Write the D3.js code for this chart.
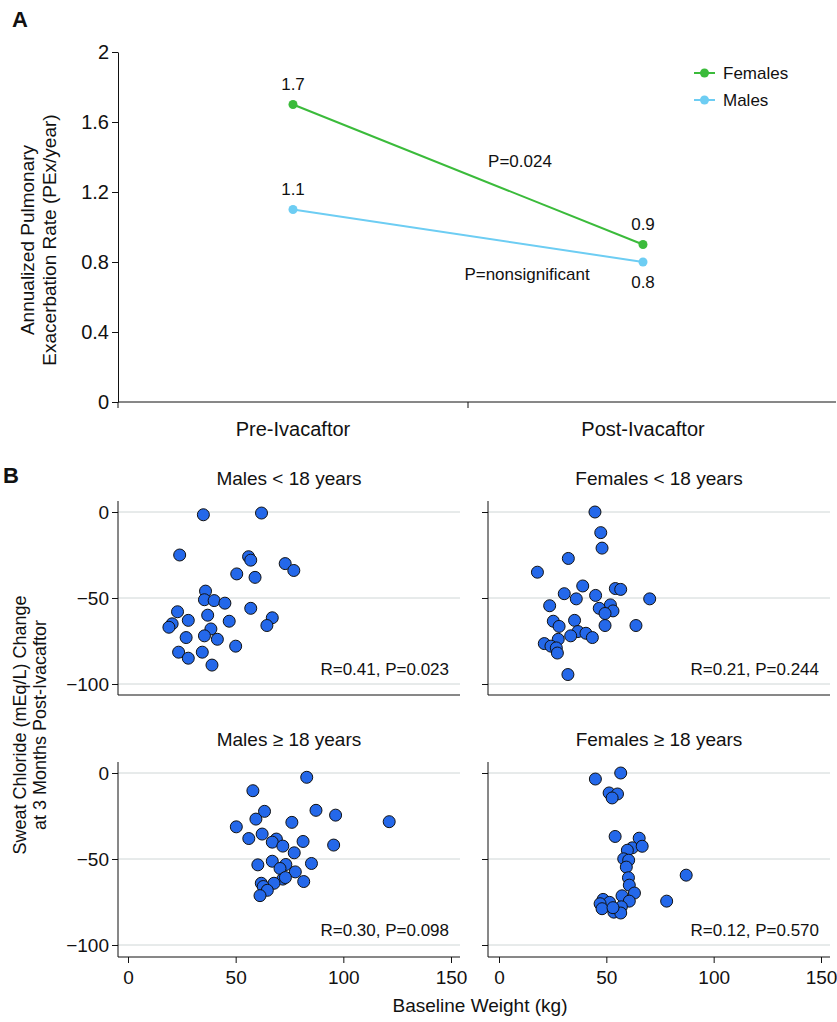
<!DOCTYPE html>
<html>
<head>
<meta charset="utf-8">
<script src="https://cdn.jsdelivr.net/npm/d3@7"></script>
<style>
  html, body { margin: 0; padding: 0; background: #fff; }
  svg { display: block; }
  text { font-family: "Liberation Sans", Arial, Helvetica, sans-serif; fill: #111; }
</style>
</head>
<body>
<svg id="chart" width="837" height="1022"></svg>
<script>
// ---------------- Panel A data ----------------
const periods = ["Pre-Ivacaftor", "Post-Ivacaftor"];
const femalesRate = [1.7, 0.9];
const malesRate = [1.1, 0.8];
const rateTicks = [0, 0.4, 0.8, 1.2, 1.6, 2];
const seriesNames = ["Females", "Males"];
const pLabels = ["P=0.024", "P=nonsignificant"];

// ---------------- Panel B data ----------------
const panelTitles = ["Males < 18 years", "Females < 18 years", "Males \u2265 18 years", "Females \u2265 18 years"];
const panelStats = ["R=0.41, P=0.023", "R=0.21, P=0.244", "R=0.30, P=0.098", "R=0.12, P=0.570"];
const weightTicks = [0, 50, 100, 150];
const changeTicks = [-100, -50, 0];

const malesU18Weight = [35,62,24,56,57,73,77,50.5,59,36,35.5,40,45,57,23,37,67,28,47,20.5,64.5,19,38.5,35.5,27,41.5,50,23.5,34.5,28,39];
const malesU18Change = [-1.6,-0.6,-25,-26,-28,-30,-34,-36,-38,-46,-51,-51.5,-53,-56,-58,-60,-61.5,-63,-63.5,-65,-66,-67,-68,-72,-73,-74,-78,-81.5,-81.5,-85,-89];

const femalesU18Weight = [44.7,47.4,48,32.3,17.9,39,54.2,56.7,30.4,45,36,70.2,23.6,51.9,46.7,53.1,49.4,35.2,25.3,28,49.4,63.8,36.8,40.5,33.4,43.5,27.6,21.1,24.2,26.7,27.2,32.1];
const femalesU18Change = [0,-12,-21,-27,-35,-43,-44.5,-45,-47.5,-48.5,-50.5,-50.5,-54.5,-54,-56,-57.5,-59,-63,-63.5,-66.5,-66,-66,-69.5,-70.5,-72,-73,-74,-76.5,-78,-79,-82,-94.5];

const malesO18Weight = [83,58,63.4,87.3,96.4,59.4,76.1,121.3,50.3,62.3,56.1,68.9,67,81.3,71.9,95.5,77.2,67,60.3,73.3,85.2,70.6,77.7,71.9,73.1,81.6,61.9,67.8,62.8,64.7,61.3];
const malesO18Change = [-2.5,-10.3,-22.3,-21.7,-24.5,-26.8,-28.7,-28.3,-31.3,-35.5,-38.1,-38.4,-40.2,-39.8,-42.5,-41.9,-46.4,-51.3,-53.4,-53.2,-52.6,-55.5,-57.5,-61.7,-60.8,-63.1,-64.1,-64.1,-66,-68.2,-71.3];

const femalesO18Weight = [56.7,44.9,51.3,55.2,52.7,54.1,65.3,62.1,66.7,59.8,58.1,60.4,59.3,60.3,60.7,63.1,57.3,48.5,87.2,78.1,51.5,60.7,47.1,48,57,53.5,56.7,53.1];
const femalesO18Change = [0,-3.5,-11.6,-12.2,-14.5,-36.9,-37.9,-43.5,-42.6,-44.9,-49.9,-50.7,-54.7,-60.9,-65.2,-69.8,-71.4,-73.5,-59.4,-74.5,-75.2,-74.5,-76,-78.9,-77.8,-80.9,-81.4,-78.3];

// ---------------- Drawing ----------------
const svg = d3.select("#chart");
const green = "#3bbb3b", blue = "#6dcdf3";
const fontA = 20, fontSmall = 17;

// Panel A
svg.append("text").attr("x", 12).attr("y", 27).attr("font-size", 22).attr("font-weight", "bold").text("A");

const xA = d3.scaleBand().domain(periods).range([118, 818]);
const yA = d3.scaleLinear().domain([0, 2]).range([402, 52]);
const gA = svg.append("g");

const yAxisA = d3.axisLeft(yA).tickValues(rateTicks).tickSize(6).tickSizeOuter(0)
  .tickFormat(d => d === 0 || d === 2 ? String(d) : d.toFixed(1));
const gyA = gA.append("g").attr("transform", "translate(118,0)").call(yAxisA);
gyA.selectAll("text").attr("font-size", fontA).attr("font-family", "Liberation Sans, Arial, sans-serif").attr("fill", "#111");
gyA.selectAll("line, path").attr("stroke", "#111");

// x axis line and ticks
gA.append("line").attr("x1", 118).attr("x2", 836).attr("y1", yA(0)).attr("y2", yA(0)).attr("stroke", "#111");
gA.selectAll(".xtickA").data(periods).enter().append("line")
  .attr("x1", d => xA(d)).attr("x2", d => xA(d)).attr("y1", yA(0)).attr("y2", yA(0) + 6).attr("stroke", "#111");
gA.selectAll(".xlabA").data(periods).enter().append("text")
  .attr("x", d => xA(d) + xA.bandwidth() / 2).attr("y", yA(0) + 34)
  .attr("text-anchor", "middle").attr("font-size", fontA).text(d => d);

// y title
const yTitleA = gA.append("text").attr("transform", `translate(0,240) rotate(-90)`).attr("text-anchor", "middle").attr("font-size", 19);
yTitleA.append("tspan").attr("x", 0).attr("y", 34).text("Annualized Pulmonary");
yTitleA.append("tspan").attr("x", 0).attr("y", 56).text("Exacerbation Rate (PEx/year)");

const cx = d => xA(d) + xA.bandwidth() / 2;
const lineA = d3.line().x((d, i) => cx(periods[i])).y(d => yA(d));
const seriesA = [{ name: seriesNames[0], vals: femalesRate, color: green }, { name: seriesNames[1], vals: malesRate, color: blue }];
seriesA.forEach(s => {
  gA.append("path").attr("d", lineA(s.vals)).attr("fill", "none").attr("stroke", s.color).attr("stroke-width", 2);
  gA.selectAll(null).data(s.vals).enter().append("circle")
    .attr("cx", (d, i) => cx(periods[i])).attr("cy", d => yA(d)).attr("r", 4.5).attr("fill", s.color);
});
// value labels
const labelOffsets = [[-20, -20], [-20, 20]]; // [females pre/post], [males pre/post]
seriesA.forEach((s, si) => {
  s.vals.forEach((v, i) => {
    gA.append("text").attr("x", cx(periods[i])).attr("y", yA(v) + labelOffsets[si][i])
      .attr("dy", "0.35em").attr("text-anchor", "middle").attr("font-size", fontSmall).text(v.toFixed(1));
  });
});
// p-values
gA.append("text").attr("x", xA(periods[1]) + 52).attr("y", yA(1.375)).attr("dy", "0.35em")
  .attr("text-anchor", "middle").attr("font-size", fontSmall).text(pLabels[0]);
gA.append("text").attr("x", xA(periods[1]) + 59).attr("y", yA(0.73)).attr("dy", "0.35em")
  .attr("text-anchor", "middle").attr("font-size", fontSmall).text(pLabels[1]);

// legend
seriesA.forEach((s, i) => {
  const ly = 73 + i * 27;
  gA.append("line").attr("x1", 694).attr("x2", 715).attr("y1", ly).attr("y2", ly).attr("stroke", s.color).attr("stroke-width", 2);
  gA.append("circle").attr("cx", 704.5).attr("cy", ly).attr("r", 4.5).attr("fill", s.color);
  gA.append("text").attr("x", 723).attr("y", ly).attr("dy", "0.35em").attr("font-size", fontSmall).text(s.name);
});

// Panel B
svg.append("text").attr("x", 3).attr("y", 483).attr("font-size", 22).attr("font-weight", "bold").text("B");

const panels = [
  { w: malesU18Weight, c: malesU18Change, left: 118, right: 460, x0: 128, x1: 451, top: 501, bottom: 695, y0: 512, y100: 684, col: 0, row: 0 },
  { w: femalesU18Weight, c: femalesU18Change, left: 488, right: 830, x0: 499, x1: 821, top: 501, bottom: 695, y0: 512, y100: 684, col: 1, row: 0 },
  { w: malesO18Weight, c: malesO18Change, left: 118, right: 460, x0: 128, x1: 451, top: 762, bottom: 957, y0: 773, y100: 945, col: 0, row: 1 },
  { w: femalesO18Weight, c: femalesO18Change, left: 488, right: 830, x0: 499, x1: 821, top: 762, bottom: 957, y0: 773, y100: 945, col: 1, row: 1 }
];

panels.forEach((p, k) => {
  const g = svg.append("g");
  const x = d3.scaleLinear().domain([0, 150]).range([p.x0, p.x1]);
  const y = d3.scaleLinear().domain([-100, 0]).range([p.y100, p.y0]);

  // gridlines
  g.selectAll(null).data(changeTicks).enter().append("line")
    .attr("x1", p.left).attr("x2", p.right).attr("y1", d => y(d)).attr("y2", d => y(d))
    .attr("stroke", "#cfd6d6").attr("stroke-width", 1);

  // y axis
  const yAx = d3.axisLeft(y).tickValues(changeTicks).tickSize(6).tickSizeOuter(0)
    .tickFormat(d => p.col === 0 ? (d < 0 ? "\u2212" + Math.abs(d) : String(d)) : "");
  const gy = g.append("g").attr("transform", `translate(${p.left},0)`).call(yAx);
  gy.select(".domain").remove();
  gy.selectAll("line").attr("stroke", "#111");
  gy.selectAll("text").attr("font-size", 19).attr("font-family", "Liberation Sans, Arial, sans-serif").attr("fill", "#111");
  g.append("line").attr("x1", p.left).attr("x2", p.left).attr("y1", p.top).attr("y2", p.bottom).attr("stroke", "#111");
  g.append("line").attr("x1", p.left).attr("x2", p.right).attr("y1", p.bottom).attr("y2", p.bottom).attr("stroke", "#111");

  // x axis on bottom row
  if (p.row === 1) {
    const xAx = d3.axisBottom(x).tickValues(weightTicks).tickSize(6).tickSizeOuter(0).tickPadding(8);
    const gx = g.append("g").attr("transform", `translate(0,${p.bottom})`).call(xAx);
    gx.select(".domain").remove();
    gx.selectAll("line").attr("stroke", "#111");
    gx.selectAll("text").attr("font-size", 19).attr("font-family", "Liberation Sans, Arial, sans-serif").attr("fill", "#111");
  }

  // title
  g.append("text").attr("x", (p.left + p.right) / 2).attr("y", p.top - 23).attr("dy", "0.35em")
    .attr("text-anchor", "middle").attr("font-size", 19).text(panelTitles[k]);

  // points
  const pts = p.w.map((w, i) => ({ w, c: p.c[i] }));
  g.selectAll(null).data(pts).enter().append("circle")
    .attr("cx", d => x(d.w)).attr("cy", d => y(d.c)).attr("r", 6)
    .attr("fill", "#2468ea").attr("stroke", "#111").attr("stroke-width", 1);

  // stats
  g.append("text").attr("x", p.right - 11).attr("y", y(-100) - 15).attr("dy", "0.35em")
    .attr("text-anchor", "end").attr("font-size", fontSmall).text(panelStats[k]);
});

// shared titles
const yTitleB = svg.append("text").attr("transform", "translate(0,725) rotate(-90)").attr("text-anchor", "middle").attr("font-size", 18);
yTitleB.append("tspan").attr("x", 0).attr("y", 26).text("Sweat Chloride (mEq/L) Change");
yTitleB.append("tspan").attr("x", 0).attr("y", 46).text("at 3 Months Post-Ivacaftor");

svg.append("text").attr("x", 480).attr("y", 1005).attr("dy", "0.35em").attr("text-anchor", "middle").attr("font-size", 19).text("Baseline Weight (kg)");
</script>
</body>
</html>
